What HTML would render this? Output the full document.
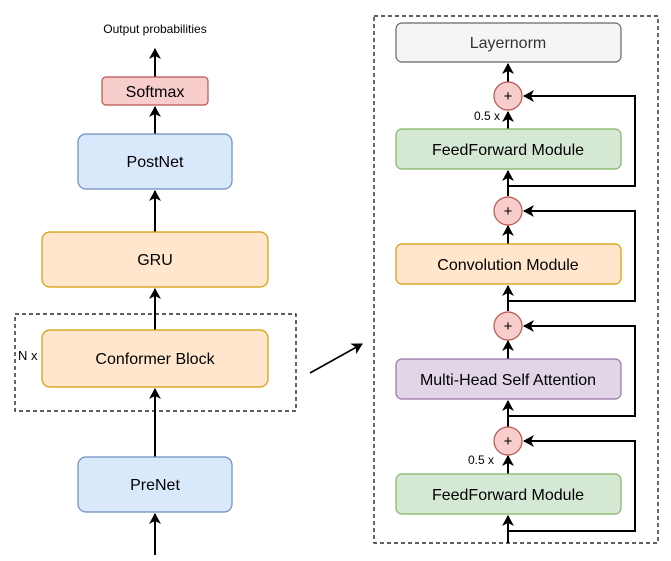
<!DOCTYPE html>
<html><head><meta charset="utf-8"><style>
html,body{margin:0;padding:0;background:#fff;}
svg{display:block;font-family:"Liberation Sans",Arial,sans-serif;}
</style></head><body>
<svg width="671" height="561" viewBox="0 0 671 561" xmlns="http://www.w3.org/2000/svg">
<defs>
<marker id="a" markerWidth="14" markerHeight="14" refX="10" refY="6" orient="auto" markerUnits="userSpaceOnUse">
<path d="M0,0 L11,6 L0,12 L3,6 Z" fill="#000"/>
</marker>
</defs>
<g stroke="#000" stroke-width="2" fill="none">
<line x1="155" y1="555" x2="155" y2="514" marker-end="url(#a)"/>
<line x1="155" y1="457" x2="155" y2="389" marker-end="url(#a)"/>
<line x1="155" y1="330" x2="155" y2="289" marker-end="url(#a)"/>
<line x1="155" y1="232" x2="155" y2="191" marker-end="url(#a)"/>
<line x1="155" y1="134" x2="155" y2="107" marker-end="url(#a)"/>
<line x1="155" y1="77" x2="155" y2="49" marker-end="url(#a)"/>
<line x1="310" y1="373" x2="362" y2="344" stroke-width="1.6" marker-end="url(#a)"/>
<line x1="508" y1="543" x2="508" y2="516" marker-end="url(#a)"/>
<line x1="508" y1="474" x2="508" y2="456" marker-end="url(#a)"/>
<line x1="508" y1="427" x2="508" y2="401" marker-end="url(#a)"/>
<line x1="508" y1="359" x2="508" y2="341" marker-end="url(#a)"/>
<line x1="508" y1="311" x2="508" y2="286" marker-end="url(#a)"/>
<line x1="508" y1="244" x2="508" y2="226" marker-end="url(#a)"/>
<line x1="508" y1="196" x2="508" y2="171" marker-end="url(#a)"/>
<line x1="508" y1="129" x2="508" y2="112" marker-end="url(#a)"/>
<line x1="508" y1="82" x2="508" y2="64" marker-end="url(#a)"/>
<polyline points="508,531 635,531 635,441 524,441" marker-end="url(#a)"/>
<polyline points="508,416 635,416 635,326 524,326" marker-end="url(#a)"/>
<polyline points="508,301 635,301 635,211 524,211" marker-end="url(#a)"/>
<polyline points="508,186 635,186 635,96 524,96" marker-end="url(#a)"/>
</g>
<rect x="15" y="314" width="281" height="97" fill="none" stroke="#000" stroke-width="1.2" stroke-dasharray="4,3"/>
<rect x="374" y="16" width="284" height="527" fill="none" stroke="#000" stroke-width="1.2" stroke-dasharray="4,3"/>
<rect x="102" y="77" width="106" height="28" rx="4" fill="#f8cecc" stroke="#b85450" stroke-width="1.2"/>
<rect x="78" y="134" width="154" height="55" rx="8" fill="#dae8fc" stroke="#6c8ebf" stroke-width="1.2"/>
<rect x="42" y="232" width="226" height="55" rx="8" fill="#ffe6cc" stroke="#d79b00" stroke-width="1.2"/>
<rect x="42" y="330" width="226" height="57" rx="8" fill="#ffe6cc" stroke="#d79b00" stroke-width="1.2"/>
<rect x="78" y="457" width="154" height="55" rx="8" fill="#dae8fc" stroke="#6c8ebf" stroke-width="1.2"/>
<rect x="396" y="23" width="225" height="39" rx="6" fill="#f5f5f5" stroke="#666" stroke-width="1.2"/>
<rect x="396" y="129" width="225" height="40" rx="6" fill="#d5e8d4" stroke="#82b366" stroke-width="1.2"/>
<rect x="396" y="244" width="225" height="40" rx="6" fill="#ffe6cc" stroke="#d79b00" stroke-width="1.2"/>
<rect x="396" y="359" width="225" height="40" rx="6" fill="#e1d5e7" stroke="#9673a6" stroke-width="1.2"/>
<rect x="396" y="474" width="225" height="40" rx="6" fill="#d5e8d4" stroke="#82b366" stroke-width="1.2"/>
<g fill="#f8cecc" stroke="#b85450" stroke-width="1.2">
<circle cx="508" cy="96" r="14"/><circle cx="508" cy="211" r="14"/>
<circle cx="508" cy="326" r="14"/><circle cx="508" cy="441" r="14"/>
</g>
<g font-size="16" text-anchor="middle" fill="#000">
<text x="155" y="97">Softmax</text>
<text x="155" y="167">PostNet</text>
<text x="155" y="265">GRU</text>
<text x="155" y="364">Conformer Block</text>
<text x="155" y="490">PreNet</text>
<text x="508" y="48" fill="#333">Layernorm</text>
<text x="508" y="155">FeedForward Module</text>
<text x="508" y="270">Convolution Module</text>
<text x="508" y="385">Multi-Head Self Attention</text>
<text x="508" y="500">FeedForward Module</text>
<g font-size="15"><text x="508" y="101">+</text><text x="508" y="216">+</text><text x="508" y="331">+</text><text x="508" y="446">+</text></g>
</g>
<g font-size="12" fill="#000">
<text x="155" y="33" text-anchor="middle">Output probabilities</text>
<text x="18" y="360" font-size="13">N x</text>
<text x="474" y="120">0.5 x</text>
<text x="468" y="464">0.5 x</text>
</g>
</svg>
</body></html>
